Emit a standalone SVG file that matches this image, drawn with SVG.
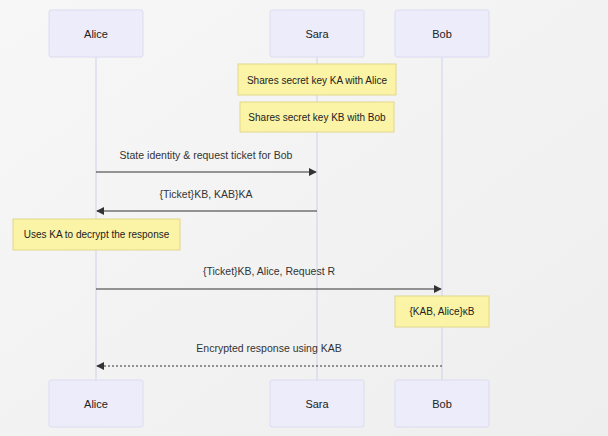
<svg xmlns="http://www.w3.org/2000/svg" width="608" height="436" viewBox="0 0 608 436">
<defs>
<style>
text{font-family:"Liberation Sans","DejaVu Sans",sans-serif;font-size:10.5px;fill:#333;text-anchor:middle;dominant-baseline:central}
.actor rect{fill:#ececfa;stroke:#dcdcf0;stroke-width:1}
.actor text{font-size:11px;fill:#222}
.note rect{fill:#fbf3a6;stroke:#e3d78a;stroke-width:1}
.note text{fill:#222;font-size:10px}
.life{stroke:#cfcfea;stroke-width:1}
.msg{stroke:#333;stroke-width:1.2;fill:none}
.dash{stroke-dasharray:2,2}
.lbl{fill:#333}
</style>
<marker id="ah" viewBox="0 0 10 10" refX="9" refY="5" markerWidth="8" markerHeight="8" orient="auto-start-reverse" markerUnits="userSpaceOnUse">
<path d="M0,0 L10,5 L0,10 z" fill="#333"/>
</marker>
<linearGradient id="bg" x1="0" y1="0" x2="1" y2="1">
<stop offset="0" stop-color="#f7f7f8"/>
<stop offset="1" stop-color="#eeeeef"/>
</linearGradient>
</defs>
<rect x="0" y="0" width="608" height="436" fill="url(#bg)"/>
<g id="lifelines">
<line class="life" x1="96" y1="57" x2="96" y2="380"/>
<line class="life" x1="317" y1="57" x2="317" y2="380"/>
<line class="life" x1="442" y1="57" x2="442" y2="380"/>
</g>
<g id="actor-alice-top" class="actor"><rect x="49" y="10" width="94" height="47" rx="2"/><text x="96" y="34">Alice</text></g>
<g id="actor-sara-top" class="actor"><rect x="270" y="10" width="94" height="47" rx="2"/><text x="317" y="34">Sara</text></g>
<g id="actor-bob-top" class="actor"><rect x="395" y="10" width="94" height="47" rx="2"/><text x="442" y="34">Bob</text></g>
<g id="note1" class="note"><rect x="238" y="64" width="158" height="31"/><text x="317" y="80">Shares secret key KA with Alice</text></g>
<g id="note2" class="note"><rect x="240" y="102" width="154" height="30"/><text x="317" y="117">Shares secret key KB with Bob</text></g>
<g id="note3" class="note"><rect x="13" y="219" width="167" height="31"/><text x="96.5" y="234">Uses KA to decrypt the response</text></g>
<g id="note4" class="note"><rect x="395" y="296" width="94" height="31"/><text x="442" y="311">{KAB, Alice}κB</text></g>
<g id="connectors">
<line class="msg" x1="96" y1="172" x2="316" y2="172" marker-end="url(#ah)"/>
<text class="lbl" x="206" y="155">State identity &amp; request ticket for Bob</text>
<line class="msg" x1="317" y1="211" x2="97" y2="211" marker-end="url(#ah)"/>
<text class="lbl" x="206" y="194">{Ticket}KB, KAB}KA</text>
<line class="msg" x1="96" y1="289" x2="441" y2="289" marker-end="url(#ah)"/>
<text class="lbl" x="269" y="271">{Ticket}KB, Alice, Request R</text>
<line class="msg dash" x1="442" y1="366" x2="97" y2="366" marker-end="url(#ah)"/>
<text class="lbl" x="269" y="348">Encrypted response using KAB</text>
</g>
<g id="actor-alice-bottom" class="actor"><rect x="49" y="380" width="94" height="47" rx="2"/><text x="96" y="404">Alice</text></g>
<g id="actor-sara-bottom" class="actor"><rect x="270" y="380" width="94" height="47" rx="2"/><text x="317" y="404">Sara</text></g>
<g id="actor-bob-bottom" class="actor"><rect x="395" y="380" width="94" height="47" rx="2"/><text x="442" y="404">Bob</text></g>
</svg>
